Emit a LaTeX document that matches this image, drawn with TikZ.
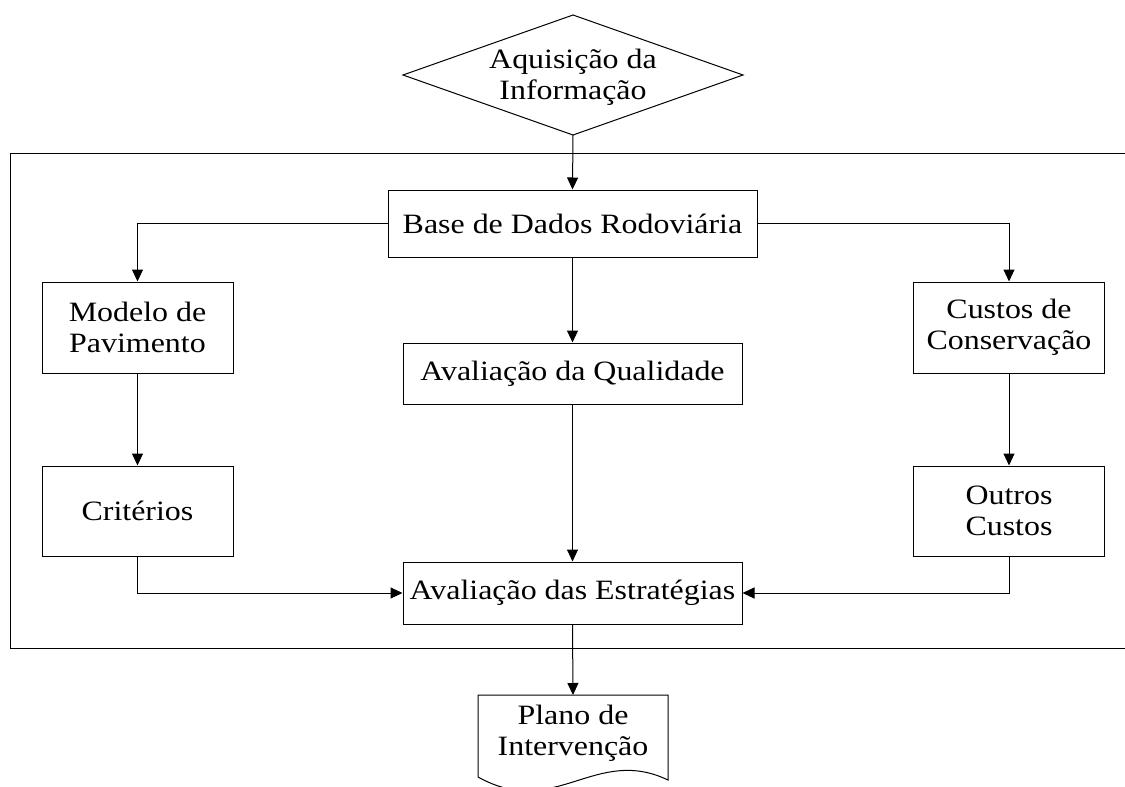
\documentclass[tikz,border=0pt]{standalone}
\usepackage{fontspec}
\setmainfont{Liberation Serif}[FakeStretch=1.14]
\usetikzlibrary{arrows.meta}
\begin{document}
\begin{tikzpicture}[x=1pt,y=-1pt,
  font=\fontsize{28}{31}\selectfont,
  line width=1pt,
  box/.style={draw, align=center, inner sep=0pt},
  arr/.style={-{Triangle[length=12pt,width=11pt]}},
  plain/.style={align=center, inner sep=0pt}]
\useasboundingbox (0,0) rectangle (1125,787);
% outer frame (open on the right)
\draw (1125,153) -- (10,153) -- (10,648) -- (1125,648);
% diamond
\draw (573,15) -- (743,75) -- (573,135) -- (403,75) -- cycle;
\node[plain] (aq) at (573,77) {Aquisição da\\Informação};
\coordinate (aqs) at (573,135);
% boxes
\node[box, minimum width=369pt, minimum height=67pt] (base) at (572.5,223.5) {Base de Dados Rodoviária};
\node[box, minimum width=191pt, minimum height=91pt] (modelo) at (137.5,327.5) {Modelo de\\Pavimento};
\node[box, minimum width=191pt, minimum height=91pt] (custos) at (1009,327.5) {Custos de\\Conservação};
\node[box, minimum width=339pt, minimum height=61pt] (qual) at (572.5,373.5) {Avaliação da Qualidade};
\node[box, minimum width=191pt, minimum height=90pt] (crit) at (137.5,511) {Critérios};
\node[box, minimum width=191pt, minimum height=90pt] (outros) at (1009,511) {Outros\\Custos};
\node[box, minimum width=339pt, minimum height=62pt] (estr) at (572.5,593) {Avaliação das Estratégias};
% document shape
\draw (478,777) -- (478,695) -- (668,695) -- (668,780)
  .. controls (595,745) and (555,820) .. (478,777);
\node[plain] (plano) at (573,733) {Plano de\\Intervenção};
\coordinate (planotop) at (573,695);
% connectors
\draw[arr] (aqs) -- (base.north);
\draw[arr] (base.west) -| (modelo.north);
\draw[arr] (base.east) -| (custos.north);
\draw[arr] (base.south) -- (qual.north);
\draw[arr] (modelo.south) -- (crit.north);
\draw[arr] (custos.south) -- (outros.north);
\draw[arr] (qual.south) -- (estr.north);
\draw[arr] (crit.south) |- (estr.west);
\draw[arr] (outros.south) |- (estr.east);
\draw[arr] (estr.south) -- (planotop);
\end{tikzpicture}
\end{document}
